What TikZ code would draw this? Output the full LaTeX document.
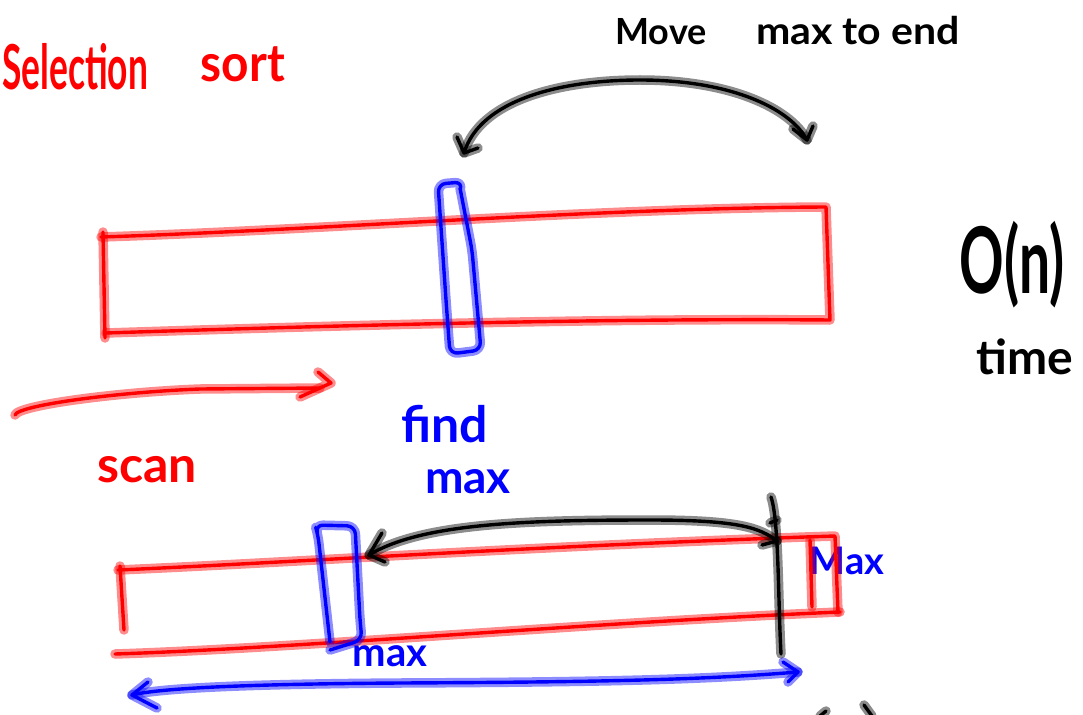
\documentclass[tikz,border=0pt]{standalone}
\usepackage{fontspec}
\setmainfont{Lato}
\definecolor{inkred}{RGB}{255,0,0}
\definecolor{inkblue}{RGB}{0,0,255}
\definecolor{inkblack}{RGB}{0,0,0}
\tikzset{
  ink/.style={line width=3.4pt, line cap=round, line join=round, draw=#1,
    preaction={draw=#1, line width=9.5pt, opacity=0.45, line cap=round, line join=round}},
  red ink/.style={ink=inkred},
  blue ink/.style={ink=inkblue},
  black ink/.style={ink=inkblack},
  word/.style={inner sep=0pt, font=\bfseries\fontsize{#1}{#1}\selectfont},
  red word/.style={word=#1, text=inkred},
  blue word/.style={word=#1, text=inkblue},
  black word/.style={word=#1, text=inkblack},
}
\begin{document}
\begin{tikzpicture}[x=1pt, y=-1pt]
\useasboundingbox[fill=white] (0,0) rectangle (1083,714);

% title and side notes
\node[red word=62, anchor=base west, xscale=0.57] (title) at (2,90) {Selection};
\node[red word=52, anchor=base, xscale=0.92] (sortword) at (243,82) {sort};
\node[black word=36, anchor=base] (move) at (661,45) {Move};
\node[black word=38, anchor=base, xscale=1.08] (maxend) at (858,45) {max to end};
\node[black word=92, xscale=0.6] (order) at (1012,265) {O(n)};
\node[black word=48] (time) at (1025,357) {time};
\node[red word=50] (scan) at (147,470) {scan};
\node[blue word=50] (find) at (445,424) {find};
\node[blue word=46] (findmax) at (468,482) {max};
\node[blue word=40] (maxlow) at (390,656) {max};
\node[blue word=38] (maxcell) at (847,561) {Max};

% ---- upper array ----
\draw[red ink] (103,232) -- (105,338);
\draw[red ink] (101,237) .. controls (320,230) and (600,208) .. (826,207) -- (830,320)
  .. controls (600,318) and (320,326) .. (106,333);
% highlighted cell
\draw[blue ink, rounded corners=8pt] (460,190) -- (463,182) -- (438,184) -- (446,300)
  -- (450,354) -- (481,350) -- (472,250) -- (460,188);

% swap arrow above upper array
\coordinate (swapL) at (464,153);
\coordinate (swapR) at (807,140);
\draw[black ink] (swapL) .. controls (480,100) and (560,80) .. (640,80)
  .. controls (730,80) and (790,108) .. (swapR);
\draw[black ink] (457,137) -- (swapL) -- (478,148);
\draw[black ink] (793,129) -- (swapR) -- (813,126);

% scan arrow
\coordinate (scanS) at (15,415);
\coordinate (scanE) at (331,383);
\draw[red ink] (scanS) .. controls (18,405) and (120,392) .. (200,389) -- (320,388);
\draw[red ink] (318,372) -- (scanE) -- (300,397);

% ---- lower array ----
\draw[red ink] (120,566) -- (124,630);
\draw[red ink] (118,570) .. controls (300,562) and (500,548) .. (805,537) -- (835,536) -- (838,612);
\draw[red ink] (840,612) .. controls (600,622) and (300,648) .. (115,654);
\draw[red ink] (810,540) -- (812,607);
% found maximum
\draw[blue ink, rounded corners=8pt] (330,642) -- (318,535) -- (315,525) -- (355,526)
  -- (360,620) -- (362,640) -- (330,650);

% boundary of the unsorted part
\coordinate (barTop) at (771,497);
\coordinate (barBot) at (781,654);
\draw[black ink] (barTop) .. controls (779,520) and (778,600) .. (barBot);
\draw[black ink] (770,523) -- (777,520);

% move-to-end arrow
\coordinate (mvS) at (777,541);
\coordinate (mvE) at (369,555);
\draw[black ink] (mvS) .. controls (760,528) and (740,520) .. (650,520)
  .. controls (520,520) and (420,524) .. (mvE);
\draw[black ink] (762,545) -- (mvS);
\draw[black ink] (382,533) -- (mvE) -- (385,562);

% range arrow under lower array
\coordinate (rngL) at (132,695);
\coordinate (rngR) at (798,672);
\draw[blue ink] (rngL) .. controls (160,688) and (250,684) .. (400,683)
  .. controls (600,682) and (700,680) .. (rngR);
\draw[blue ink] (148,682) -- (rngL) -- (157,708);
\draw[blue ink] (783,662) -- (rngR) -- (788,682);

% ink marks at the lower edge
\draw[black ink] (820,716) -- (826,711);
\draw[black ink] (864,705) -- (872,716);
\end{tikzpicture}
\end{document}
